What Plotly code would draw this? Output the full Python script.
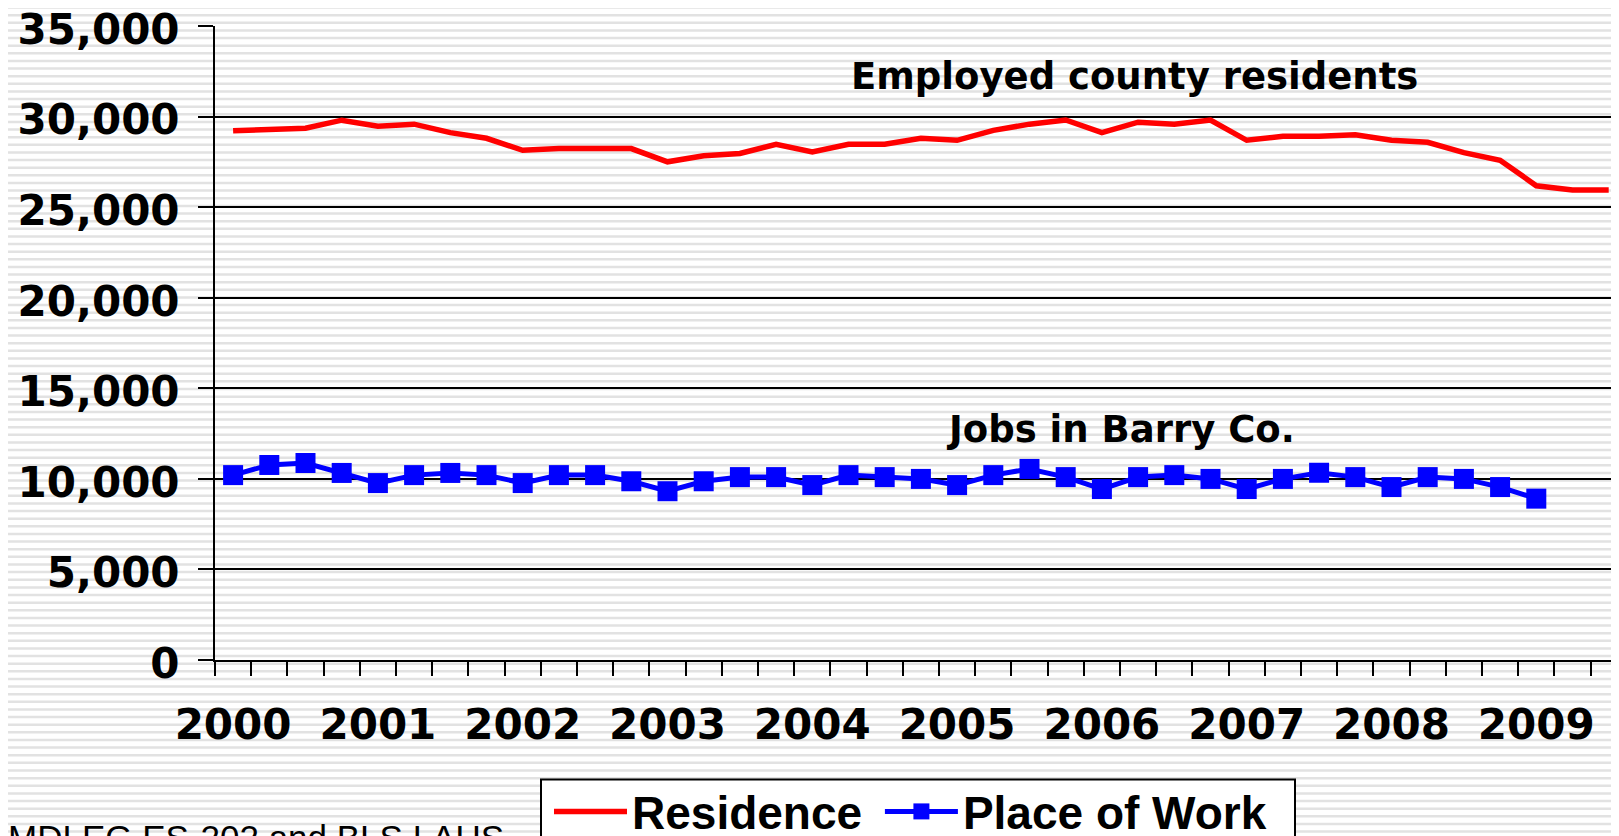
import plotly.graph_objects as go

# ---- data (quarterly, 2000 Q1 .. 2009 Q3) ----
quarters = list(range(39))  # category index
year_labels = ["2000", "2001", "2002", "2003", "2004", "2005", "2006", "2007", "2008", "2009"]
year_positions = [0, 4, 8, 12, 16, 20, 24, 28, 32, 36]

residence = [29220, 29310, 29370, 29810, 29480, 29590, 29120, 28810, 28150, 28240,
             28240, 28240, 27510, 27840, 27970, 28480, 28060, 28480, 28480, 28810,
             28700, 29250, 29590, 29820, 29120, 29700, 29590, 29820, 28700, 28920,
             28920, 29010, 28700, 28590, 28020, 27600, 26190, 25950, 25950]

place_of_work = [10210, 10770, 10880, 10330, 9770, 10210, 10330, 10210, 9770, 10210,
                 10210, 9870, 9320, 9870, 10100, 10100, 9660, 10210, 10100, 10000,
                 9660, 10210, 10550, 10100, 9440, 10100, 10210, 10000, 9440, 10000,
                 10340, 10100, 9550, 10100, 10000, 9550, 8910]

# ---- geometry (figure pixels; page adds an 8px body margin) ----
W, H = 1619, 836
L, R, T, B = 207, 0, 18, 184
PW, PH = W - L - R, H - T - B
cat_px = 36.2
y_max = 35000


def px_x(x):
    return (x - L) / PW


def px_y(y):
    return (H - B - y) / PH


fig = go.Figure()

fig.add_trace(go.Scatter(
    x=quarters[:len(residence)], y=residence, mode="lines", name="Residence\u00a0",
    line=dict(color="#ff0000", width=5.5),
))
fig.add_trace(go.Scatter(
    x=quarters[:len(place_of_work)], y=place_of_work, mode="lines+markers", name="Place of Work",
    line=dict(color="#0000ff", width=5),
    marker=dict(symbol="square", size=20, color="#0000ff", line=dict(width=0)),
))

# striped background
shapes = []
k = 0
while True:
    ypx = -0.5 + 7.63 * k
    if ypx > H + 5:
        break
    shapes.append(dict(type="line", xref="paper", yref="paper",
                       x0=px_x(-10), x1=px_x(W + 10), y0=px_y(ypx), y1=px_y(ypx),
                       line=dict(color="#e2e2e2", width=2.5), layer="below"))
    k += 1

# legend frame
shapes.append(dict(type="rect", xref="paper", yref="paper",
                   x0=px_x(533), x1=px_x(1287), y0=px_y(771.5), y1=px_y(H + 20),
                   fillcolor="white", line=dict(color="black", width=2), layer="above"))

bold = "DejaVu Sans"
annotations = [
    dict(text="<b>Employed county residents</b>", x=24.9, y=32200, xref="x", yref="y",
         showarrow=False, font=dict(family=bold, size=37, color="black")),
    dict(text="<b>Jobs in Barry Co.</b>", x=24.5, y=12750, xref="x", yref="y",
         showarrow=False, font=dict(family=bold, size=37, color="black")),
    dict(text="MDLEG ES-202 and BLS LAUS", x=px_x(-2.4), y=px_y(829), xref="paper", yref="paper",
         xanchor="left", yanchor="middle", showarrow=False,
         font=dict(family="Liberation Sans", size=35, color="black")),
]

fig.update_layout(
    width=W, height=H,
    margin=dict(l=L, r=R, t=T, b=B, autoexpand=False),
    paper_bgcolor="white", plot_bgcolor="rgba(0,0,0,0)",
    shapes=shapes, annotations=annotations,
    showlegend=True,
    legend=dict(orientation="h", x=px_x(541), y=px_y(767), xanchor="left", yanchor="top",
                bgcolor="rgba(0,0,0,0)", borderwidth=0,
                font=dict(family="Liberation Sans", size=46, color="black", weight="bold"),
                itemwidth=73),
    xaxis=dict(
        range=[-0.5, -0.5 + PW / cat_px],
        tickmode="array", tickvals=year_positions, ticktext=[f"<b>{t}</b>" for t in year_labels],
        ticks="", showgrid=False, zeroline=False,
        showline=True, linecolor="black", linewidth=2,
        tickfont=dict(family=bold, size=42, color="black"),
        ticklabelstandoff=27,
        minor=dict(tick0=-0.5, dtick=1, ticks="outside", ticklen=14, tickwidth=2,
                   tickcolor="black", showgrid=False),
    ),
    yaxis=dict(
        range=[0, y_max * 1.0003], dtick=5000, tickformat=",",
        showgrid=True, gridcolor="black", gridwidth=2, zeroline=False,
        showline=True, linecolor="black", linewidth=2,
        ticks="outside", ticklen=15, tickwidth=2, tickcolor="black",
        tickfont=dict(family=bold, size=42, color="black"),
        tickprefix="<b>", ticksuffix="</b>",
        ticklabelstandoff=10, ticklabelshift=3, ticklabeloverflow="allow",
    ),
)

fig.write_html("out.html")
